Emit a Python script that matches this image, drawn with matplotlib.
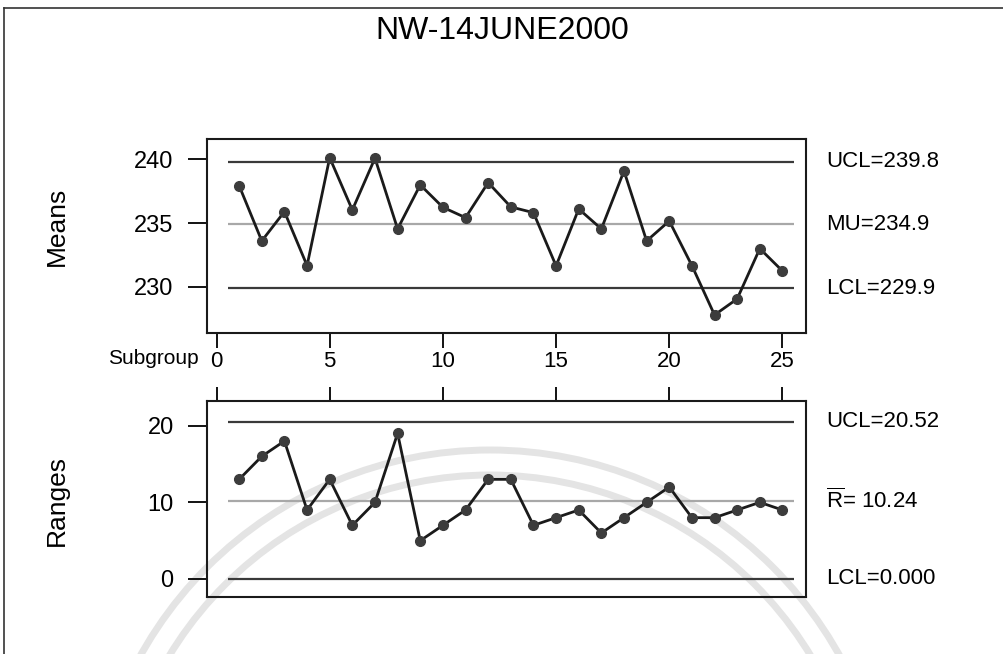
import matplotlib
matplotlib.use('Agg')
import matplotlib.pyplot as plt
from matplotlib.lines import Line2D
from matplotlib.patches import Circle
from matplotlib.transforms import blended_transform_factory

plt.rcParams['font.family'] = ['Liberation Sans', 'DejaVu Sans']
plt.rcParams['mathtext.fontset'] = 'custom'
plt.rcParams['mathtext.rm'] = 'Liberation Sans'

# X-bar / R chart data, subgroup size 6
subgroups = list(range(1, 26))
means = [237.92, 233.60, 235.89, 231.67, 240.11, 236.02, 240.07, 234.54, 237.98, 236.23,
         235.42, 238.16, 236.26, 235.81, 231.65, 236.10, 234.54, 239.07, 233.60, 235.16,
         231.67, 227.81, 229.07, 233.00, 231.25]
ranges = [13, 16, 18, 9, 13, 7, 10, 19, 5, 7,
          9, 13, 13, 7, 8, 9, 6, 8, 10, 12,
          8, 8, 9, 10, 9]

mean_ucl, mean_cl, mean_lcl = 239.8, 234.9, 229.9
range_ucl, range_cl, range_lcl = 20.52, 10.24, 0.0

mean_labels = ['UCL=239.8', 'MU=234.9', 'LCL=229.9']
range_labels = ['UCL=20.52', r'$\overline{\mathrm{R}}$= 10.24', 'LCL=0.000']

W, H = 1004, 654
fig = plt.figure(figsize=(W / 100, H / 100), dpi=100)
ax1 = fig.add_axes([207 / W, 1 - 333 / H, 599 / W, 194 / H])
ax2 = fig.add_axes([207 / W, 1 - 596.7 / H, 599 / W, 196 / H])

# faint seal watermark behind the charts
for r in (4.0, 3.75):
    fig.add_artist(Circle((4.9, -1.96), r, transform=fig.dpi_scale_trans, fill=False,
                          color='#e4e4e4', lw=5, zorder=-1))

# page frame (top and left edges)
fig.add_artist(Line2D([4 / W, 4 / W], [0, 1 - 8 / H], transform=fig.transFigure, color='#333333', lw=1.2))
fig.add_artist(Line2D([4 / W, 1], [1 - 8 / H, 1 - 8 / H], transform=fig.transFigure, color='#333333', lw=1.2))


def draw_chart(ax, values, ucl, cl, lcl, labels):
    ax.set_facecolor('none')
    for s in ax.spines.values():
        s.set_linewidth(1.5)
        s.set_color('#1a1a1a')
    ax.hlines([ucl, lcl], 0.5, 25.5, color='#3a3a3a', lw=1.6)
    ax.hlines(cl, 0.5, 25.5, color='#a8a8a8', lw=1.6)
    ax.plot(subgroups, values, color='#1a1a1a', lw=2, marker='o', ms=7,
            mfc='#3c3c3c', mec='#3c3c3c')
    ax.set_xlim(-0.42, 26.04)
    ax.set_xticks(range(0, 26, 5))
    ax.tick_params(axis='y', direction='out', length=14, width=1.3, labelsize=17, pad=10)
    tr = blended_transform_factory(ax.transAxes, ax.transData)
    for val, lab in zip((ucl, cl, lcl), labels):
        ax.text(1 + 20 / 599, val, lab, transform=tr, va='center', ha='left', fontsize=16)


draw_chart(ax1, means, mean_ucl, mean_cl, mean_lcl, mean_labels)
draw_chart(ax2, ranges, range_ucl, range_cl, range_lcl, range_labels)

ax1.set_ylim(226.4, 241.57)
ax1.set_yticks([230, 235, 240])
ax1.tick_params(axis='x', direction='out', length=11, width=1.3, labelsize=16, pad=2)

ax2.set_ylim(-2.31, 23.26)
ax2.set_yticks([0, 10, 20])
ax2.xaxis.tick_top()
ax2.tick_params(axis='x', direction='out', length=10, width=1.3, top=True, bottom=False,
                labeltop=False, labelbottom=False)

fig.text(199 / W, 1 - 359 / H, 'Subgroup', ha='right', va='center', fontsize=15)
fig.text(57 / W, 1 - 226 / H, 'Means', rotation=90, ha='center', va='center', fontsize=19)
fig.text(57 / W, 1 - 500 / H, 'Ranges', rotation=90, ha='center', va='center', fontsize=19)
fig.text(0.5, 1 - 31 / H, 'NW-14JUNE2000', ha='center', va='center', fontsize=23)

fig.savefig('out.png', dpi=100)
